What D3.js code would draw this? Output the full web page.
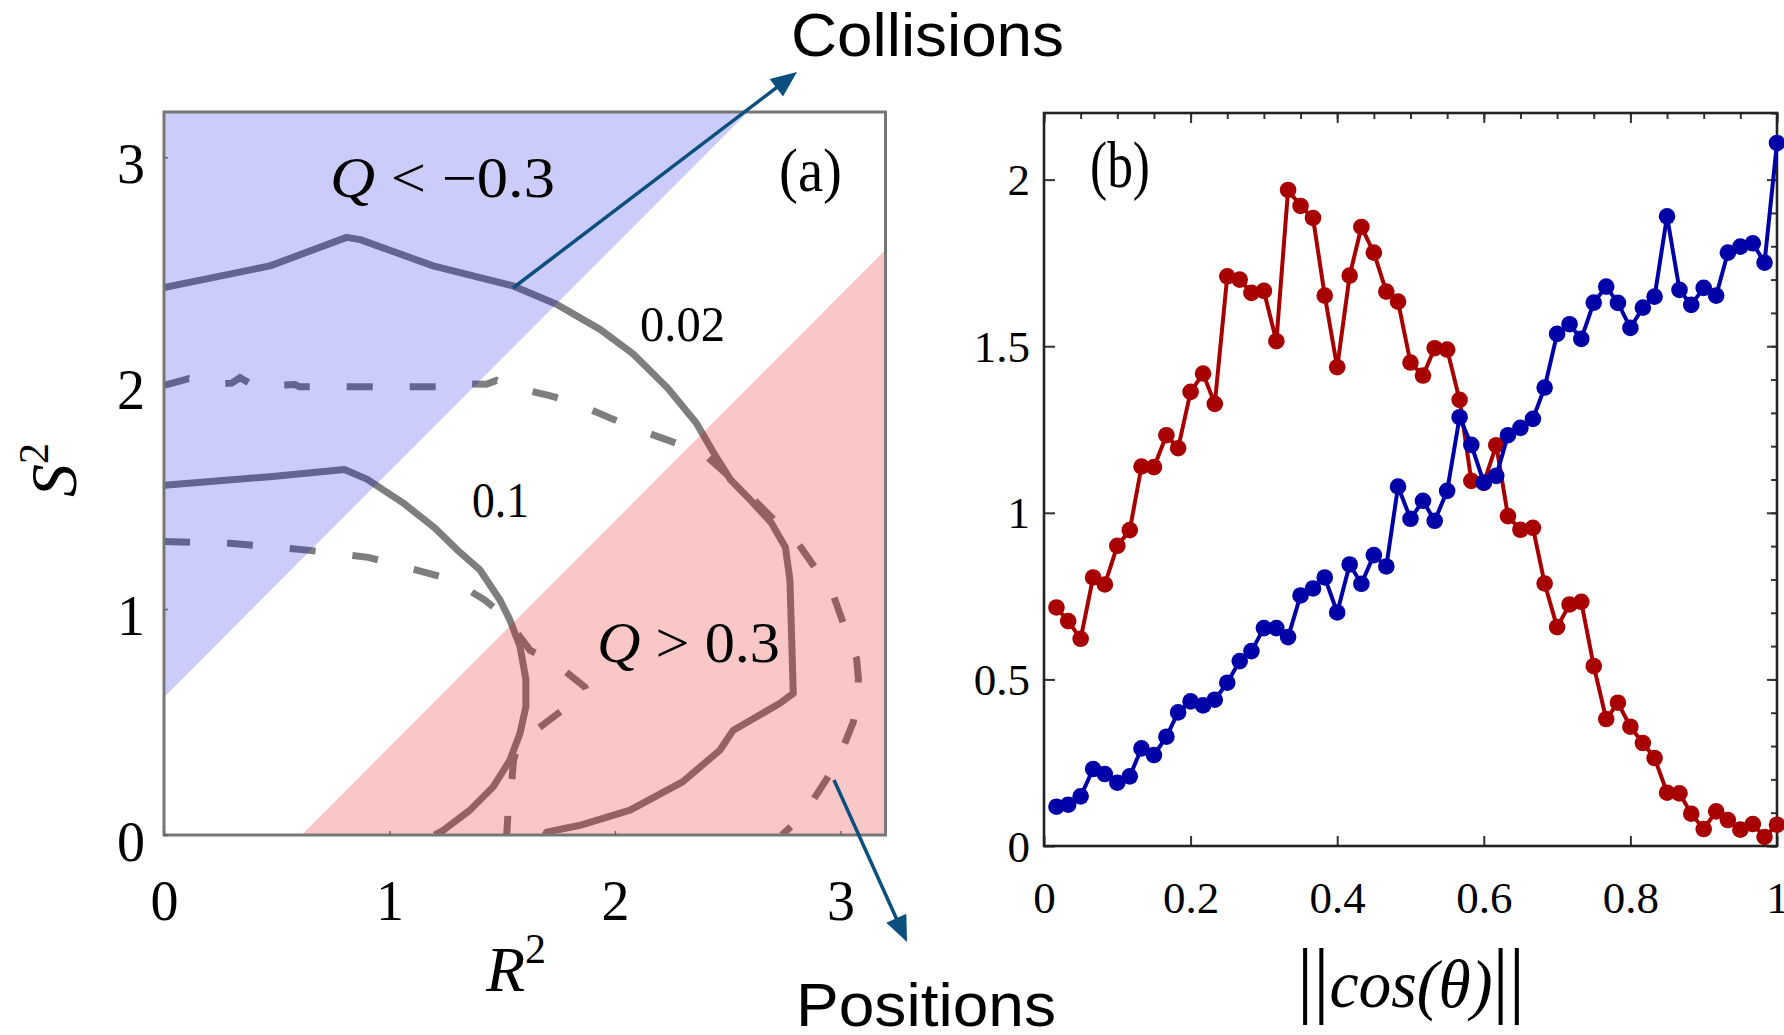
<!DOCTYPE html>
<html>
<head>
<meta charset="utf-8">
<script src="https://cdn.jsdelivr.net/npm/d3@7"></script>
<style>
  html, body { margin: 0; padding: 0; background: #fff; }
  svg { display: block; }
</style>
</head>
<body>
<svg id="fig" width="1784" height="1035"></svg>
<script>
// ---------- panel (b): distributions over |cos(theta)| ----------
const cosBins = [0.017,0.033,0.050,0.067,0.083,0.100,0.117,0.133,0.150,0.167,
                 0.183,0.200,0.217,0.233,0.250,0.267,0.283,0.300,0.317,0.333,
                 0.350,0.367,0.383,0.400,0.417,0.433,0.450,0.467,0.483,0.500,
                 0.517,0.533,0.550,0.567,0.583,0.600,0.617,0.633,0.650,0.667,
                 0.683,0.700,0.717,0.733,0.750,0.767,0.783,0.800,0.817,0.833,
                 0.850,0.867,0.883,0.900,0.917,0.933,0.950,0.967,0.983,1.000];
const redSeries = [0.716,0.675,0.622,0.806,0.785,0.901,0.948,1.139,1.137,1.233,
                   1.194,1.363,1.418,1.327,1.710,1.700,1.660,1.666,1.515,1.969,
                   1.921,1.885,1.652,1.437,1.712,1.858,1.781,1.664,1.634,1.451,
                   1.412,1.494,1.490,1.339,1.096,1.090,1.203,0.990,0.949,0.955,
                   0.788,0.657,0.725,0.733,0.540,0.381,0.430,0.358,0.309,0.264,
                   0.160,0.158,0.097,0.051,0.104,0.078,0.049,0.066,0.027,0.064];
const blueSeries = [0.118,0.124,0.149,0.231,0.216,0.190,0.209,0.293,0.273,0.328,
                    0.401,0.434,0.422,0.439,0.490,0.555,0.585,0.654,0.654,0.627,
                    0.752,0.773,0.806,0.701,0.845,0.787,0.873,0.839,1.079,0.982,
                    1.036,0.976,1.066,1.287,1.204,1.091,1.111,1.233,1.255,1.282,
                    1.376,1.537,1.566,1.522,1.631,1.679,1.630,1.555,1.616,1.649,
                    1.890,1.669,1.624,1.675,1.652,1.781,1.799,1.809,1.751,2.110];
const bTicksX = [0, 0.2, 0.4, 0.6, 0.8, 1];
const bTickLabelsX = ["0", "0.2", "0.4", "0.6", "0.8", "1"];
const bTicksY = [0, 0.5, 1, 1.5, 2];
const bTickLabelsY = ["0", "0.5", "1", "1.5", "2"];

// ---------- panel (a): contours in the (R², S²) plane ----------
const contourSolid002 = [[0,2.423],[0.47,2.519],[0.81,2.645],[0.87,2.635],[1.194,2.519],
  [1.549,2.43],[1.741,2.349],[1.934,2.238],[2.08,2.13],[2.233,1.979],[2.36,1.825],
  [2.437,1.693],[2.513,1.572],[2.59,1.494],[2.692,1.384],[2.756,1.274],[2.776,1.13],
  [2.791,0.627],[2.732,0.583],[2.525,0.464],[2.466,0.376],[2.3,0.235],[2.067,0.11],
  [1.845,0.043],[1.697,0.013],[1.69,0]];
const contourSolid01 = [[0,1.548],[0.47,1.586],[0.80,1.618],[0.90,1.575],[1.06,1.47],
  [1.20,1.36],[1.30,1.262],[1.40,1.175],[1.49,1.04],[1.534,0.952],[1.579,0.834],
  [1.605,0.69],[1.605,0.568],[1.579,0.45],[1.534,0.331],[1.46,0.213],[1.357,0.11],
  [1.239,0.021],[1.2,0]];
const contourDashed002 = [[0,1.99],[0.11,2.02],[0.2,1.995],[0.30,2.0],[0.337,2.024],
  [0.404,1.985],[0.58,1.994],[0.60,1.984],[1.22,1.984],[1.261,1.998],[1.43,1.995],
  [1.475,2.012],[1.534,1.985],[1.71,1.945],[1.815,1.915],[2.08,1.803],[2.386,1.693],
  [2.539,1.56],[2.717,1.384],[2.794,1.317],[2.924,1.13],[2.968,1.063],[3.03,0.89],
  [3.072,0.78],[3.08,0.69],[3.072,0.612],[3.057,0.5],[2.99,0.331],[2.931,0.235],
  [2.835,0.087],[2.74,0]];
const contourDashed01 = [[0,1.299],[0.293,1.291],[0.625,1.262],[0.906,1.229],[1.187,1.155],
  [1.276,1.129],[1.423,1.04],[1.512,0.967],[1.623,0.818],[1.726,0.767],[1.867,0.655],
  [1.877,0.628],[1.808,0.583],[1.66,0.472],[1.571,0.405],[1.55,0.33],[1.542,0.228],
  [1.527,0.117],[1.52,0]];
const regionCollisions = [[0,0.61],[0,3.2],[2.59,3.2]];
const regionPositions = [[0.61,0],[3.2,0],[3.2,2.59]];
const aTicks = [0, 1, 2, 3];
const aTickLabels = ["0", "1", "2", "3"];

const svg = d3.select("#fig");
const serif = "'Liberation Serif', 'DejaVu Serif', serif";
const sans = "'Liberation Sans', Arial, sans-serif";

// ================= panel (a) =================
const xA = d3.scaleLinear().domain([0, 3.2]).range([164, 885.5]);
const yA = d3.scaleLinear().domain([0, 3.2]).range([835, 112]);
const gA = svg.append("g");

svg.append("defs").append("clipPath").attr("id", "clipA")
  .append("rect").attr("x", 164).attr("y", 112).attr("width", 721.5).attr("height", 723);

const lineA = d3.line().x(d => xA(d[0])).y(d => yA(d[1]));
const contours = gA.append("g").attr("clip-path", "url(#clipA)");
[contourSolid002, contourSolid01].forEach(c =>
  contours.append("path").attr("d", lineA(c)).attr("fill", "none")
    .attr("stroke", "#7e7e7e").attr("stroke-width", 7).attr("stroke-linejoin", "round"));
[contourDashed002, contourDashed01].forEach(c =>
  contours.append("path").attr("d", lineA(c)).attr("fill", "none")
    .attr("stroke", "#7e7e7e").attr("stroke-width", 7).attr("stroke-dasharray", "26 37"));

// translucent regions laid over the contours
gA.append("path").attr("d", lineA(regionCollisions) + "Z")
  .attr("fill", "rgb(0,0,230)").attr("fill-opacity", 0.2);
gA.append("path").attr("d", lineA(regionPositions) + "Z")
  .attr("fill", "rgb(230,0,0)").attr("fill-opacity", 0.22);

// frame and ticks
gA.append("rect").attr("x", 164).attr("y", 112).attr("width", 721.5).attr("height", 723)
  .attr("fill", "none").attr("stroke", "#777").attr("stroke-width", 3);

const axA_b = gA.append("g").attr("transform", "translate(0,835)")
  .call(d3.axisBottom(xA).tickValues(aTicks).tickFormat((d, i) => aTickLabels[i])
        .tickSizeInner(-4).tickSizeOuter(0));
const axA_l = gA.append("g").attr("transform", "translate(164,0)")
  .call(d3.axisLeft(yA).tickValues(aTicks).tickFormat((d, i) => aTickLabels[i])
        .tickSizeInner(-4).tickSizeOuter(0));
[axA_b, axA_l].forEach(a => {
  a.select(".domain").remove();
  a.selectAll(".tick line").attr("stroke", "#666").attr("stroke-width", 1.5);
  a.selectAll("text").attr("font-family", serif).attr("font-size", 56).attr("fill", "#000");
});
axA_b.selectAll("text").attr("y", 85).attr("dy", null);
axA_l.selectAll("text").attr("x", -19).attr("y", 25).attr("dy", null);

// in-plot labels
function qLabel(x, y, rest, len) {
  const t = svg.append("text").attr("x", x).attr("y", y)
    .attr("font-family", serif).attr("font-size", 56)
    .attr("textLength", len).attr("lengthAdjust", "spacingAndGlyphs");
  t.append("tspan").attr("font-style", "italic").text("Q");
  t.append("tspan").text(rest);
}
qLabel(330, 197, " < \u22120.3", 225);
qLabel(597, 662, " > 0.3", 183);

svg.append("text").attr("x", 640).attr("y", 341).attr("font-family", serif)
  .attr("font-size", 50).attr("textLength", 85).attr("lengthAdjust", "spacingAndGlyphs").text("0.02");
svg.append("text").attr("x", 472).attr("y", 517).attr("font-family", serif)
  .attr("font-size", 50).attr("textLength", 57).attr("lengthAdjust", "spacingAndGlyphs").text("0.1");
svg.append("text").attr("x", 779).attr("y", 191).attr("font-family", serif)
  .attr("font-size", 62).attr("textLength", 63).attr("lengthAdjust", "spacingAndGlyphs").text("(a)");

// axis titles
const sTitle = svg.append("text").attr("transform", "translate(76,470) rotate(-90)")
  .attr("text-anchor", "middle").attr("font-family", serif).attr("font-size", 66)
  .attr("font-style", "italic");
sTitle.append("tspan").text("S");
sTitle.append("tspan").attr("font-size", 42).attr("dy", -28).attr("font-style", "normal").text("2");

const rTitle = svg.append("text").attr("x", 486).attr("y", 991)
  .attr("font-family", serif).attr("font-size", 64).attr("font-style", "italic");
rTitle.append("tspan").text("R");
rTitle.append("tspan").attr("font-size", 42).attr("dy", -28).attr("font-style", "normal").text("2");

// ================= panel (b) =================
const xB = d3.scaleLinear().domain([0, 1]).range([1044, 1777]);
const yB = d3.scaleLinear().domain([0, 2.2]).range([846, 113]);
const gB = svg.append("g");

function tickRow(axisGen, translate, values, size) {
  const a = gB.append("g").attr("transform", translate)
    .call(axisGen.tickValues(values).tickSizeInner(size).tickSizeOuter(0).tickFormat(""));
  a.select(".domain").remove();
  a.selectAll(".tick line").attr("stroke", "#333").attr("stroke-width", 2);
  return a;
}
// top: minor every 0.05, longer at the labelled positions
tickRow(d3.axisTop(xB), "translate(0,113)", d3.range(0, 1.0001, 0.05), -6);
tickRow(d3.axisTop(xB), "translate(0,113)", bTicksX, -10);
// right: minor every 0.1, longer at 0.5 steps
tickRow(d3.axisRight(yB), "translate(1777,0)", d3.range(0, 2.2001, 0.1), -6);
tickRow(d3.axisRight(yB), "translate(1777,0)", bTicksY, -10);

const axB_b = gB.append("g").attr("transform", "translate(0,846)")
  .call(d3.axisBottom(xB).tickValues(bTicksX).tickFormat((d, i) => bTickLabelsX[i])
        .tickSizeInner(-10).tickSizeOuter(0));
const axB_l = gB.append("g").attr("transform", "translate(1044,0)")
  .call(d3.axisLeft(yB).tickValues(bTicksY).tickFormat((d, i) => bTickLabelsY[i])
        .tickSizeInner(-11).tickSizeOuter(0));
[axB_b, axB_l].forEach(a => {
  a.select(".domain").remove();
  a.selectAll(".tick line").attr("stroke", "#333").attr("stroke-width", 2);
  a.selectAll("text").attr("font-family", serif).attr("font-size", 45).attr("fill", "#000");
});
axB_b.selectAll("text").attr("y", 67).attr("dy", null);
axB_l.selectAll("text").attr("x", -14).attr("y", 15).attr("dy", null);

gB.append("rect").attr("x", 1044).attr("y", 113).attr("width", 733).attr("height", 733)
  .attr("fill", "none").attr("stroke", "#222").attr("stroke-width", 2.6);

const lineB = d3.line().x((d, i) => xB(cosBins[i])).y(d => yB(d));
[[redSeries, "#a80000"], [blueSeries, "#0000a8"]].forEach(([s, c]) => {
  gB.append("path").attr("d", lineB(s)).attr("fill", "none")
    .attr("stroke", c).attr("stroke-width", 4).attr("stroke-linejoin", "round");
  gB.selectAll(null).data(s).enter().append("circle")
    .attr("cx", (d, i) => xB(cosBins[i])).attr("cy", d => yB(d)).attr("r", 8.3)
    .attr("fill", c);
});

svg.append("text").attr("x", 1090).attr("y", 187).attr("font-family", serif)
  .attr("font-size", 66).attr("textLength", 60).attr("lengthAdjust", "spacingAndGlyphs").text("(b)");

const cTitle = svg.append("text").attr("x", 1297).attr("y", 1007)
  .attr("font-family", serif).attr("textLength", 228).attr("lengthAdjust", "spacingAndGlyphs");
cTitle.append("tspan").attr("font-size", 84).text("||");
cTitle.append("tspan").attr("font-size", 68).attr("font-style", "italic").text("cos(\u03B8)");
cTitle.append("tspan").attr("font-size", 84).text("||");

// ================= annotations =================
const arrowColor = "#0b4f7e";
function arrow(x1, y1, x2, y2) {
  const dx = x2 - x1, dy = y2 - y1, L = Math.hypot(dx, dy);
  const ux = dx / L, uy = dy / L, head = 26, half = 11;
  svg.append("line").attr("x1", x1).attr("y1", y1)
    .attr("x2", x2 - ux * (head - 4)).attr("y2", y2 - uy * (head - 4))
    .attr("stroke", arrowColor).attr("stroke-width", 3.5);
  const bx = x2 - ux * head, by = y2 - uy * head;
  svg.append("path")
    .attr("d", `M${x2},${y2}L${bx - uy * half},${by + ux * half}L${bx + uy * half},${by - ux * half}Z`)
    .attr("fill", arrowColor);
}
arrow(513, 288, 797, 72);
arrow(834, 780, 907, 942);

svg.append("text").attr("x", 791).attr("y", 56).attr("font-family", sans)
  .attr("font-size", 62).attr("textLength", 273).attr("lengthAdjust", "spacingAndGlyphs").text("Collisions");
svg.append("text").attr("x", 796).attr("y", 1026).attr("font-family", sans)
  .attr("font-size", 62).attr("textLength", 260).attr("lengthAdjust", "spacingAndGlyphs").text("Positions");
</script>
</body>
</html>
